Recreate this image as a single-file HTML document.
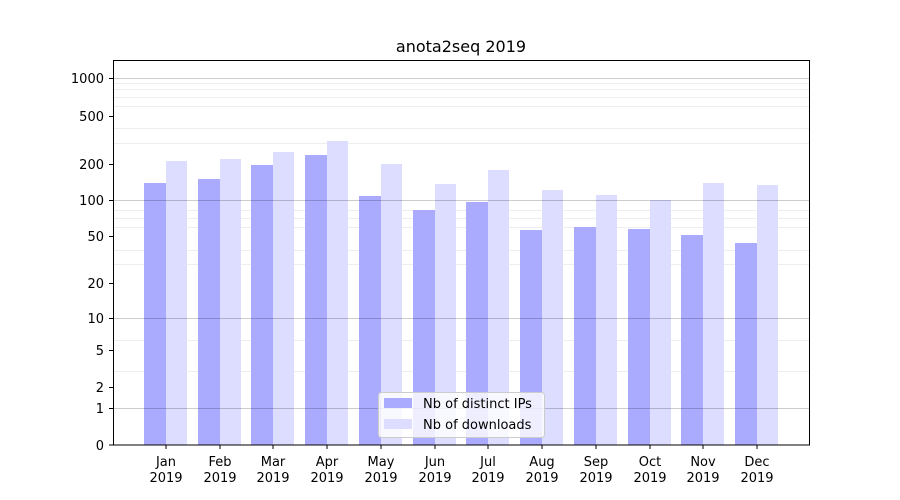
<!DOCTYPE html>
<html><head><meta charset="utf-8"><style>body{margin:0;background:#fff}svg{display:block}text{font-family:"DejaVu Sans","Liberation Sans",sans-serif;font-size:13px;fill:#000}</style></head>
<body>
<svg width="900" height="500" xmlns="http://www.w3.org/2000/svg">
<rect width="900" height="500" fill="#fff"/>
<g stroke="#eee" stroke-width="1">
<line x1="113" x2="810" y1="371.5" y2="371.5"/>
<line x1="113" x2="810" y1="340.5" y2="340.5"/>
<line x1="113" x2="810" y1="264.5" y2="264.5"/>
<line x1="113" x2="810" y1="250.5" y2="250.5"/>
<line x1="113" x2="810" y1="227.5" y2="227.5"/>
<line x1="113" x2="810" y1="218.5" y2="218.5"/>
<line x1="113" x2="810" y1="210.5" y2="210.5"/>
<line x1="113" x2="810" y1="143.5" y2="143.5"/>
<line x1="113" x2="810" y1="128.5" y2="128.5"/>
<line x1="113" x2="810" y1="106.5" y2="106.5"/>
<line x1="113" x2="810" y1="97.5" y2="97.5"/>
<line x1="113" x2="810" y1="89.5" y2="89.5"/>
<line x1="113" x2="810" y1="83.5" y2="83.5"/>
</g>
<g fill="#aaaaff">
<rect x="144" y="183" width="22" height="262"/>
<rect x="198" y="179" width="22" height="266"/>
<rect x="251" y="165" width="22" height="280"/>
<rect x="305" y="155" width="22" height="290"/>
<rect x="359" y="196" width="22" height="249"/>
<rect x="413" y="210" width="22" height="235"/>
<rect x="466" y="202" width="22" height="243"/>
<rect x="520" y="230" width="22" height="215"/>
<rect x="574" y="227" width="22" height="218"/>
<rect x="628" y="229" width="22" height="216"/>
<rect x="681" y="235" width="22" height="210"/>
<rect x="735" y="243" width="22" height="202"/>
</g>
<g fill="#ddddff">
<rect x="166" y="161" width="21" height="284"/>
<rect x="220" y="159" width="21" height="286"/>
<rect x="273" y="152" width="21" height="293"/>
<rect x="327" y="141" width="21" height="304"/>
<rect x="381" y="164" width="21" height="281"/>
<rect x="435" y="184" width="21" height="261"/>
<rect x="488" y="170" width="21" height="275"/>
<rect x="542" y="190" width="21" height="255"/>
<rect x="596" y="195" width="21" height="250"/>
<rect x="650" y="200" width="21" height="245"/>
<rect x="703" y="183" width="21" height="262"/>
<rect x="757" y="185" width="21" height="260"/>
</g>
<g stroke="#000" stroke-opacity="0.2" stroke-width="1">
<line x1="113" x2="810" y1="408.5" y2="408.5"/>
<line x1="113" x2="810" y1="318.5" y2="318.5"/>
<line x1="113" x2="810" y1="200.5" y2="200.5"/>
<line x1="113" x2="810" y1="78.5" y2="78.5"/>
</g>
<rect x="113.5" y="60.5" width="696" height="384.5" fill="none" stroke="#000"/>
<g stroke="#000">
<line x1="109" x2="113" y1="445" y2="445"/><line x1="109" x2="113" y1="408.5" y2="408.5"/>
<line x1="109" x2="113" y1="387.5" y2="387.5"/><line x1="109" x2="113" y1="350.5" y2="350.5"/>
<line x1="109" x2="113" y1="318.5" y2="318.5"/><line x1="109" x2="113" y1="283.5" y2="283.5"/>
<line x1="109" x2="113" y1="236.5" y2="236.5"/><line x1="109" x2="113" y1="200.5" y2="200.5"/>
<line x1="109" x2="113" y1="164.5" y2="164.5"/><line x1="109" x2="113" y1="116.5" y2="116.5"/>
<line x1="109" x2="113" y1="78.5" y2="78.5"/>
</g>
<g text-anchor="end">
<text x="104" y="450">0</text><text x="104" y="413">1</text><text x="104" y="392">2</text>
<text x="104" y="355">5</text><text x="104" y="323">10</text><text x="104" y="288">20</text>
<text x="104" y="241">50</text><text x="104" y="205">100</text><text x="104" y="169">200</text>
<text x="104" y="121">500</text><text x="104" y="83">1000</text>
</g>
<g stroke="#000">
<line x1="166" x2="166" y1="445" y2="449"/><line x1="220" x2="220" y1="445" y2="449"/>
<line x1="273" x2="273" y1="445" y2="449"/><line x1="327" x2="327" y1="445" y2="449"/>
<line x1="381" x2="381" y1="445" y2="449"/><line x1="435" x2="435" y1="445" y2="449"/>
<line x1="488" x2="488" y1="445" y2="449"/><line x1="542" x2="542" y1="445" y2="449"/>
<line x1="596" x2="596" y1="445" y2="449"/><line x1="650" x2="650" y1="445" y2="449"/>
<line x1="703" x2="703" y1="445" y2="449"/><line x1="757" x2="757" y1="445" y2="449"/>
</g>
<g text-anchor="middle">
<text x="166" y="466">Jan</text><text x="166" y="482">2019</text>
<text x="220" y="466">Feb</text><text x="220" y="482">2019</text>
<text x="273" y="466">Mar</text><text x="273" y="482">2019</text>
<text x="327" y="466">Apr</text><text x="327" y="482">2019</text>
<text x="381" y="466">May</text><text x="381" y="482">2019</text>
<text x="435" y="466">Jun</text><text x="435" y="482">2019</text>
<text x="488" y="466">Jul</text><text x="488" y="482">2019</text>
<text x="542" y="466">Aug</text><text x="542" y="482">2019</text>
<text x="596" y="466">Sep</text><text x="596" y="482">2019</text>
<text x="650" y="466">Oct</text><text x="650" y="482">2019</text>
<text x="703" y="466">Nov</text><text x="703" y="482">2019</text>
<text x="757" y="466">Dec</text><text x="757" y="482">2019</text>
<text x="461" y="52" style="font-size:16px">anota2seq 2019</text>
</g>
<rect x="378.5" y="392.5" width="166" height="45" rx="3" fill="#fff" fill-opacity="0.8" stroke="#ccc"/>
<rect x="384" y="398" width="28" height="10" fill="#aaaaff"/>
<rect x="384" y="419" width="28" height="10" fill="#ddddff"/>
<text x="423" y="408">Nb of distinct IPs</text>
<text x="423" y="429">Nb of downloads</text>
</svg>
</body></html>
